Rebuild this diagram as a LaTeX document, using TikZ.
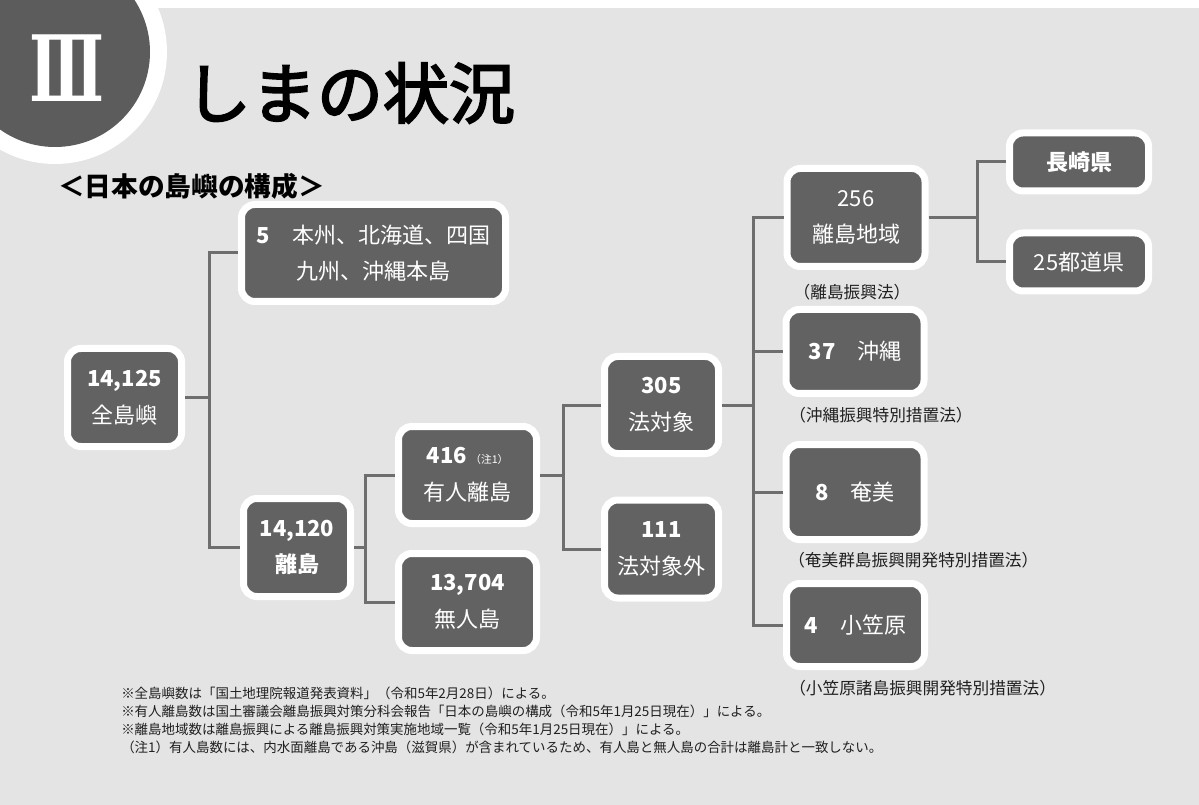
\documentclass[tikz,border=0pt]{standalone}
\usepackage{fontspec}
\setmainfont{Noto Sans CJK JP}
\newfontfamily\titlefont[FakeBold=3]{Noto Sans CJK JP}
\newfontfamily\numeralfont{DejaVu Serif}
\definecolor{bgc}{HTML}{E4E4E4}
\definecolor{boxc}{HTML}{626262}
\definecolor{circc}{HTML}{5C5C5C}
\definecolor{linec}{HTML}{6E6E6E}
\definecolor{txtc}{HTML}{202020}
\begin{document}
\begin{tikzpicture}[x=0.75pt,y=-0.75pt,
  box/.style={draw=white, line width=5.25pt, fill=boxc, rounded corners=10pt,
    text=white, align=center, inner sep=0pt,
    font=\fontsize{16.5}{27.5}\selectfont},
  conn/.style={draw=linec, line width=2.25pt},
  law/.style={font=\fontsize{12.5}{15}\selectfont, text=txtc, inner sep=0pt},
  foot/.style={font=\fontsize{10.1}{12}\selectfont, text=txtc, anchor=west, inner sep=0pt}]
\useasboundingbox (0,0) rectangle (1199,805);
\clip (0,0) rectangle (1199,805);
\fill[white] (0,0) rectangle (1199,805);
\fill[bgc] (0,8) rectangle (1199,805);
% header
\fill[white] (55,52) circle[radius=84pt];
\fill[circc] (55,52) circle[radius=71.25pt];
\node[text=white, inner sep=0pt] (num) at (67,68) {\scalebox{0.7}[1.04]{\numeralfont\bfseries\fontsize{66}{66}\selectfont Ⅲ}};
\node[font=\fontsize{49.5}{50}\titlefont, inner sep=0pt] (title) at (350,93) {しまの状況};
\node[font=\fontsize{20}{21}\bfseries\selectfont, anchor=west, inner sep=0pt] (sub) at (58,186) {＜日本の島嶼の構成＞};
% boxes
\node[box, minimum width=85.5pt, minimum height=73.5pt] (A) at (124.5,397.5) {\textbf{14,125}\\全島嶼};
\node[box, minimum width=198pt, minimum height=72.75pt] (B) at (373.5,253) {\textbf{5}　本州、北海道、四国\\九州、沖縄本島};
\node[box, minimum width=80.25pt, minimum height=73.5pt] (C) at (297,547.5) {\textbf{14,120}\\\textbf{離島}};
\node[box, minimum width=103.5pt, minimum height=72.75pt] (D) at (467.5,475) {\textbf{416}\,{\fontsize{8}{8}\selectfont（注1）}\\有人離島};
\node[box, minimum width=103.5pt, minimum height=72.75pt] (E) at (467.5,602) {\textbf{13,704}\\無人島};
\node[box, minimum width=85.5pt, minimum height=72.75pt] (F) at (661.5,405) {\textbf{305}\\法対象};
\node[box, minimum width=85.5pt, minimum height=73.5pt] (G) at (661.5,549) {\textbf{111}\\法対象外};
\node[box, minimum width=103.5pt, minimum height=73.5pt] (H) at (856,217.5) {256\\離島地域};
\node[box, minimum width=103.5pt, minimum height=63pt] (I) at (855,351.5) {\textbf{37}　沖縄};
\node[box, minimum width=103.5pt, minimum height=71.25pt] (J) at (855,492) {\textbf{8}　奄美};
\node[box, minimum width=103.5pt, minimum height=62.25pt] (K) at (855.5,625) {\textbf{4}　小笠原};
\node[box, minimum width=104.25pt, minimum height=43.5pt] (L) at (1079,162) {\textbf{長崎県}};
\node[box, minimum width=104.25pt, minimum height=43.5pt] (M) at (1079,262) {25都道県};
% law labels
\node[law] (lawH) at (852,292) {（離島振興法）};
\node[law, anchor=west] (lawI) at (789,415) {（沖縄振興特別措置法）};
\node[law, anchor=west] (lawJ) at (788,560) {（奄美群島振興開発特別措置法）};
\node[law, anchor=west] (lawK) at (789,688) {（小笠原諸島振興開発特別措置法）};
% connectors
\coordinate (j1) at (209,397);
\coordinate (j2) at (365,548);
\coordinate (j3) at (563,475);
\coordinate (j4) at (753,405);
\coordinate (j5) at (977,217);
\draw[conn] (A.east) -- (A.east -| j1);
\draw[conn] (B.west) -| (j1) |- (C.west);
\draw[conn] (C.east) -- (C.east -| j2);
\draw[conn] (D.west) -| (j2) |- (E.west);
\draw[conn] (D.east) -- (D.east -| j3);
\draw[conn] (F.west) -| (j3) |- (G.west);
\draw[conn] (F.east) -- (F.east -| j4);
\draw[conn] (H.west) -| (j4) |- (K.west);
\draw[conn] (I.west) -- (I.west -| j4);
\draw[conn] (J.west) -- (J.west -| j4);
\draw[conn] (H.east) -- (H.east -| j5);
\draw[conn] (L.west) -| (j5) |- (M.west);
% footnotes
\node[foot] (f1) at (121,693) {※全島嶼数は「国土地理院報道発表資料」（令和5年2月28日）による。};
\node[foot] (f2) at (121,711) {※有人離島数は国土審議会離島振興対策分科会報告「日本の島嶼の構成（令和5年1月25日現在）」による。};
\node[foot] (f3) at (121,729) {※離島地域数は離島振興による離島振興対策実施地域一覧（令和5年1月25日現在）」による。};
\node[foot] (f4) at (121,747) {（注1）有人島数には、内水面離島である沖島（滋賀県）が含まれているため、有人島と無人島の合計は離島計と一致しない。};
\end{tikzpicture}
\end{document}
